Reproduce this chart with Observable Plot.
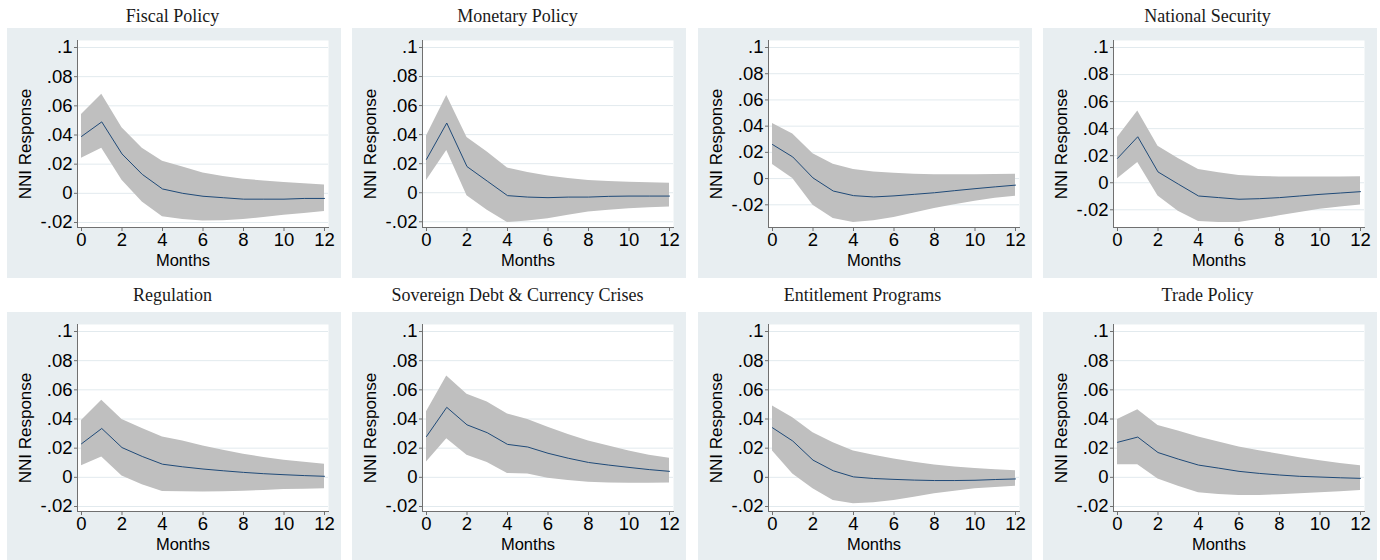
<!DOCTYPE html>
<html><head><meta charset="utf-8">
<script src="https://cdn.jsdelivr.net/npm/d3@7"></script>
<script src="https://cdn.jsdelivr.net/npm/@observablehq/plot@0.6"></script>
<style>
body{margin:0;background:#fff;}
#wrap{position:relative;width:1380px;height:560px;overflow:hidden;background:#fff;}
.title{position:absolute;width:345px;text-align:center;font-family:"Liberation Serif","DejaVu Serif",serif;font-size:18px;line-height:20px;color:#1a1a1a;white-space:nowrap;}
.panel{position:absolute;width:334px;height:250px;background:#e8eef1;}
</style></head><body><div id="wrap"></div>
<script>
const months = [0,1,2,3,4,5,6,7,8,9,10,11,12];
const titles = ["Fiscal Policy","Monetary Policy","","National Security","Regulation","Sovereign Debt & Currency Crises","Entitlement Programs","Trade Policy"];
const xTicks = [0,2,4,6,8,10,12];
const yTicks = [-0.02,0,0.02,0.04,0.06,0.08,0.1];
const yTickLabels = ["-.02","0",".02",".04",".06",".08",".1"];

const fiscalMid = [0.039,0.049,0.027,0.013,0.003,0.000,-0.002,-0.003,-0.004,-0.004,-0.004,-0.0035,-0.0035];
const fiscalHi  = [0.054,0.068,0.045,0.031,0.022,0.018,0.014,0.0115,0.0097,0.0085,0.0074,0.0065,0.0058];
const fiscalLo  = [0.024,0.031,0.009,-0.006,-0.016,-0.018,-0.019,-0.0188,-0.018,-0.0165,-0.015,-0.0138,-0.0125];

const monetaryMid = [0.023,0.048,0.018,0.008,-0.002,-0.003,-0.0034,-0.003,-0.003,-0.0025,-0.0023,-0.0023,-0.0023];
const monetaryHi  = [0.039,0.067,0.038,0.028,0.017,0.014,0.0115,0.0098,0.0085,0.0078,0.0073,0.0069,0.0066];
const monetaryLo  = [0.0085,0.029,-0.002,-0.012,-0.0205,-0.0195,-0.018,-0.0155,-0.0133,-0.012,-0.011,-0.0104,-0.0098];

const untitledMid = [0.026,0.0165,0.0005,-0.0095,-0.013,-0.014,-0.0132,-0.012,-0.0108,-0.0092,-0.0077,-0.0063,-0.005];
const untitledHi  = [0.042,0.034,0.019,0.011,0.007,0.005,0.004,0.0033,0.003,0.003,0.003,0.0032,0.0033];
const untitledLo  = [0.0107,0.0,-0.0203,-0.0304,-0.0335,-0.0322,-0.0297,-0.0263,-0.0228,-0.02,-0.0172,-0.015,-0.0134];

const securityMid = [0.018,0.034,0.008,-0.001,-0.0098,-0.011,-0.0122,-0.0118,-0.011,-0.0098,-0.0086,-0.0076,-0.0066];
const securityHi  = [0.0335,0.053,0.027,0.018,0.0098,0.0073,0.0054,0.0047,0.0042,0.0042,0.0042,0.0043,0.0044];
const securityLo  = [0.003,0.015,-0.0098,-0.021,-0.0287,-0.0294,-0.0294,-0.027,-0.0245,-0.022,-0.0196,-0.018,-0.0164];

const regulationMid = [0.023,0.0335,0.0204,0.0143,0.009,0.0072,0.0057,0.0045,0.0034,0.0025,0.0018,0.0012,0.0007];
const regulationHi  = [0.039,0.0528,0.0396,0.0335,0.0276,0.025,0.0215,0.0185,0.0158,0.0136,0.0118,0.0103,0.009];
const regulationLo  = [0.008,0.014,0.001,-0.005,-0.0097,-0.0098,-0.01,-0.0098,-0.0095,-0.009,-0.0084,-0.0081,-0.0079];

const sovereignMid = [0.028,0.048,0.036,0.0306,0.0226,0.0208,0.0165,0.0131,0.0102,0.0084,0.0068,0.0053,0.0041];
const sovereignHi  = [0.045,0.0695,0.057,0.0516,0.0435,0.0396,0.0344,0.0294,0.0249,0.0215,0.0181,0.0152,0.0131];
const sovereignLo  = [0.0106,0.0265,0.0152,0.0102,0.0027,0.0023,-0.0007,-0.0022,-0.0034,-0.0038,-0.0041,-0.004,-0.0038];

const entitlementMid = [0.034,0.0249,0.0118,0.0045,0.0003,-0.0008,-0.0014,-0.0019,-0.0022,-0.0022,-0.002,-0.0015,-0.0011];
const entitlementHi  = [0.049,0.0408,0.0306,0.0238,0.0181,0.0152,0.0125,0.0103,0.0084,0.0071,0.0061,0.0052,0.0045];
const entitlementLo  = [0.018,0.0023,-0.0079,-0.0158,-0.0181,-0.0174,-0.0158,-0.0136,-0.0113,-0.0095,-0.0079,-0.007,-0.0061];

const tradeMid = [0.024,0.0276,0.017,0.0125,0.0084,0.0063,0.0041,0.0027,0.0016,0.0007,0.0002,-0.0003,-0.0007];
const tradeHi  = [0.0396,0.0464,0.0355,0.0317,0.0276,0.0242,0.0208,0.0182,0.0158,0.0135,0.0113,0.0095,0.0079];
const tradeLo  = [0.0086,0.0086,-0.0011,-0.0061,-0.0106,-0.0118,-0.0125,-0.0124,-0.012,-0.0113,-0.0106,-0.0098,-0.0091];

const series = [
  [fiscalMid, fiscalLo, fiscalHi],
  [monetaryMid, monetaryLo, monetaryHi],
  [untitledMid, untitledLo, untitledHi],
  [securityMid, securityLo, securityHi],
  [regulationMid, regulationLo, regulationHi],
  [sovereignMid, sovereignLo, sovereignHi],
  [entitlementMid, entitlementLo, entitlementHi],
  [tradeMid, tradeLo, tradeHi]
];

const wrap = document.getElementById("wrap");
const rowPanelTop = [28, 312];
const rowTitleTop = [6, 285];
const axisColor = "#707070";

series.forEach(([mid, lo, hi], i) => {
  const col = i % 4, row = Math.floor(i / 4);
  const data = months.map((m, k) => ({month: m, mid: mid[k], lo: lo[k], hi: hi[k]}));
  const yMin = Math.min(-0.02, d3.min(lo));

  const t = document.createElement("div");
  t.className = "title";
  t.style.left = (col * 345) + "px";
  t.style.top = rowTitleTop[row] + "px";
  t.textContent = titles[i];
  wrap.appendChild(t);

  const p = document.createElement("div");
  p.className = "panel";
  p.style.left = (7 + col * 345.3) + "px";
  p.style.top = rowPanelTop[row] + "px";
  wrap.appendChild(p);

  const chart = Plot.plot({
    width: 334, height: 250,
    marginLeft: 70, marginRight: 13, marginTop: 12, marginBottom: 51,
    style: {background: "transparent", fontFamily: "'Liberation Sans', Arial, sans-serif", color: "#000", overflow: "visible"},
    x: {domain: [0, 12], insetLeft: 4, insetRight: 4},
    y: {domain: [yMin, 0.1], insetTop: 7, insetBottom: 5},
    marks: [
      Plot.frame({fill: "white", stroke: "none"}),
      Plot.gridY(yTicks, {stroke: "#e2eaee", strokeOpacity: 1, strokeWidth: 1}),
      Plot.areaY(data, {x: "month", y1: "lo", y2: "hi", fill: "#bfbfbf", fillOpacity: 1}),
      Plot.lineY(data, {x: "month", y: "mid", stroke: "#1f4a78", strokeWidth: 1}),
      Plot.frame({anchor: "left", stroke: axisColor}),
      Plot.frame({anchor: "bottom", stroke: axisColor}),
      Plot.axisY(yTicks, {tickFormat: d => yTickLabels[yTicks.indexOf(d)], tickSize: 3, tickPadding: 2, fontSize: 18.5, label: null, stroke: axisColor}),
      Plot.axisX(xTicks, {tickSize: 4, tickPadding: 1, fontSize: 18.5, label: null, stroke: axisColor}),
      Plot.text(["NNI Response"], {frameAnchor: "left", textAnchor: "middle", lineAnchor: "middle", dx: -52, dy: 10, rotate: -90, fontSize: 17}),
      Plot.text(["Months"], {frameAnchor: "bottom", textAnchor: "middle", lineAnchor: "middle", dx: -20, dy: 33, fontSize: 16.5})
    ]
  });
  p.appendChild(chart);
});
</script>
</body></html>
